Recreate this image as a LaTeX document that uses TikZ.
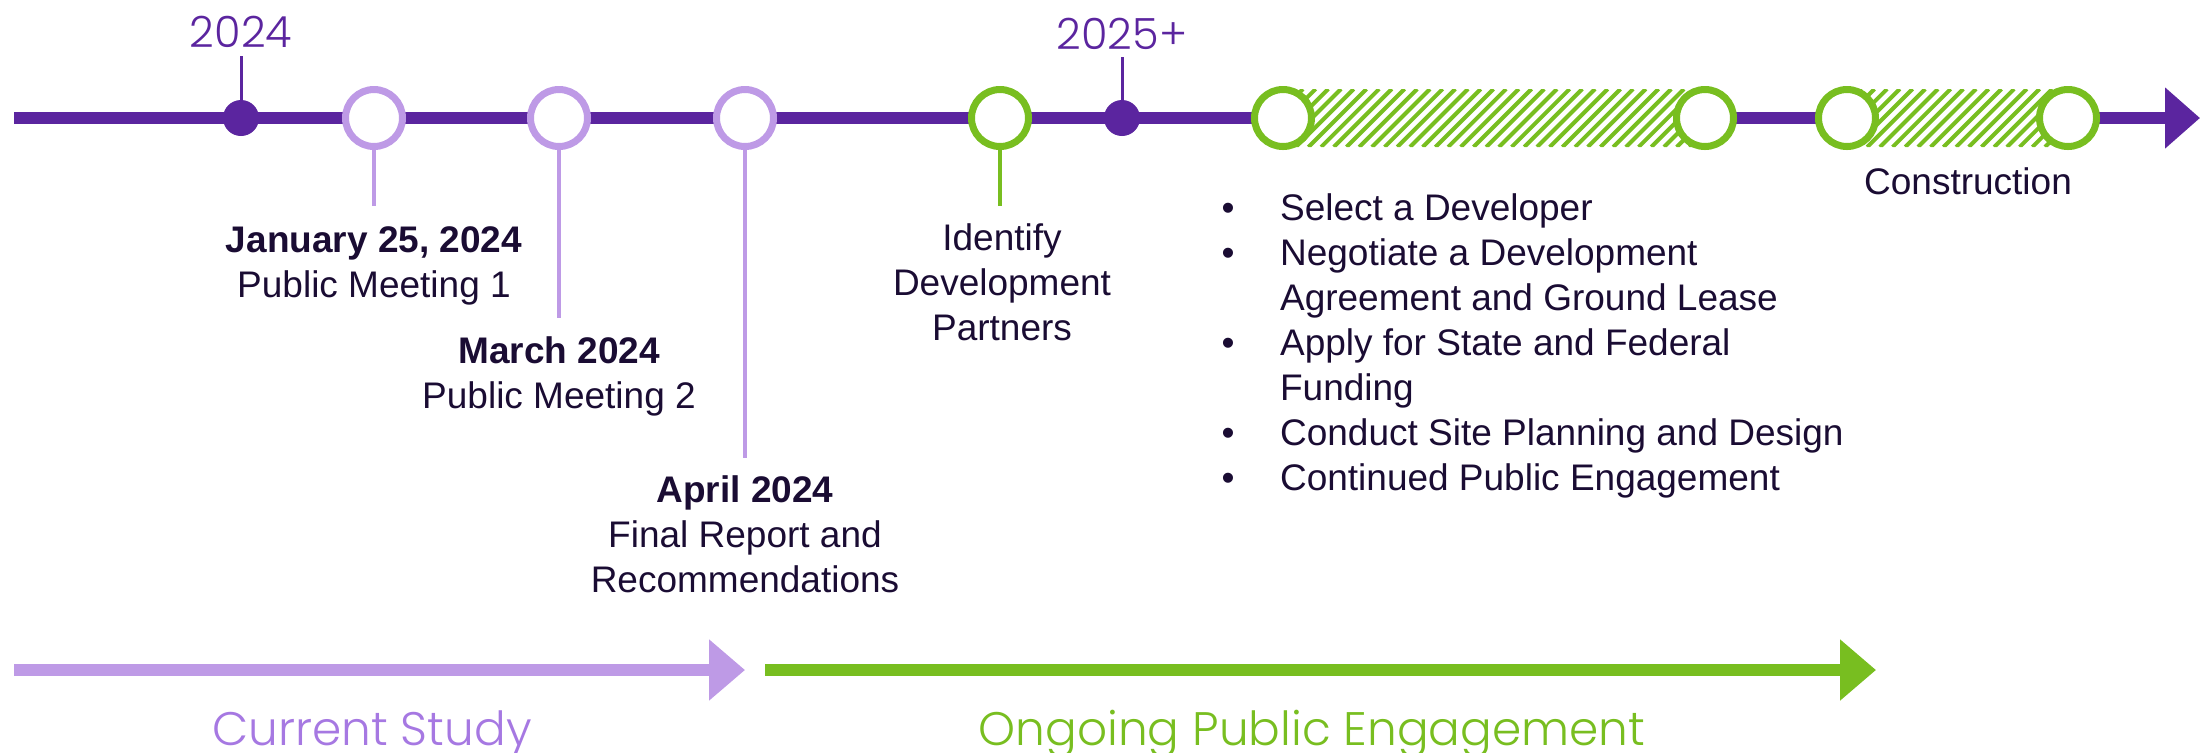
\documentclass[tikz,border=0pt]{standalone}
\usepackage{fontspec}
\setmainfont{Liberation Sans}
\IfFontExistsTF{Poppins Light}{\newfontfamily\gothic{Poppins Light}}{\newfontfamily\gothic{Poppins}}
\usetikzlibrary{arrows.meta}

\definecolor{tldark}{HTML}{5B259F}
\definecolor{tllight}{HTML}{BE9AE6}
\definecolor{tlgreen}{HTML}{78BE20}
\definecolor{tltext}{HTML}{1A0C33}
\definecolor{tlstudy}{HTML}{A678E2}

\begin{document}
\begin{tikzpicture}[x=0.5pt, y=-0.5pt,
        ring/.style={circle, draw=#1, fill=white, line width=3.5pt, inner sep=0pt, minimum size=28.5pt},
        dot/.style={circle, fill=tldark, inner sep=0pt, minimum size=18pt},
        desc/.style={text=tltext, align=center, anchor=base, font=\fontsize{18.5}{22.5}\selectfont},
        year/.style={text=tldark, anchor=base, font=\gothic\fontsize{21.5}{26}\selectfont},
        phase/.style={anchor=base, font=\gothic\fontsize{23.5}{28}\selectfont},
        stem/.style={line width=2pt, #1},
        band/.style={line width=6.35pt, -{Triangle[length=18pt, width=29.5pt]}},
        stripe/.style={tlgreen, line width=2pt}]
    \useasboundingbox (0,0) rectangle (2208,752);

    % main time line
    \coordinate (start) at (14,118);
    \coordinate (tip) at (2200,118);
    \draw[tldark, line width=6pt, -{Triangle[length=17.5pt, width=29.5pt]}] (start) -- (tip);

    % hatched spans
    \fill[white] (1283,89) rectangle (1705,147);
    \fill[white] (1847,89) rectangle (2068,147);
    \begin{scope}
        \clip (1283,89) rectangle (1705,147) (1847,89) rectangle (2068,147);
        \foreach \i in {-5,...,66}
            \draw[stripe] ({1283+\i*12.7},147) -- ++(58,-58);
    \end{scope}

    % years
    \node[dot] (y24) at (241,118) {};
    \node[dot] (y25) at (1122,118) {};
    \coordinate (t24) at (241,56);
    \coordinate (t25) at (1122,57);
    \draw[tldark, line width=1.5pt] (y24.north) -- (t24);
    \draw[tldark, line width=1.5pt] (y25.north) -- (t25);
    \node[year] (l24) at (241,47) {2024};
    \node[year] (l25) at (1122,49) {2025+};

    % milestones
    \node[ring=tllight] (m1) at (374,118) {};
    \node[ring=tllight] (m2) at (559,118) {};
    \node[ring=tllight] (m3) at (745,118) {};
    \node[ring=tlgreen] (g1) at (1000,118) {};
    \node[ring=tlgreen] (g2) at (1283,118) {};
    \node[ring=tlgreen] (g3) at (1705,118) {};
    \node[ring=tlgreen] (g4) at (1847,118) {};
    \node[ring=tlgreen] (g5) at (2068,118) {};

    \coordinate (s1) at (374,206);
    \coordinate (s2) at (559,318);
    \coordinate (s3) at (745,458);
    \coordinate (s4) at (1000,206);
    \draw[stem=tllight] (m1.south) -- (s1);
    \draw[stem=tllight] (m2.south) -- (s2);
    \draw[stem=tllight] (m3.south) -- (s3);
    \draw[stem=tlgreen] (g1.south) -- (s4);

    % texts sit on the baseline of their last line
    \node[desc] (d1) at (374,297) {\textbf{January 25, 2024}\\Public Meeting 1};
    \node[desc] (d2) at (559,408) {\textbf{March 2024}\\Public Meeting 2};
    \node[desc] (d3) at (745,592) {\textbf{April 2024}\\Final Report and\\Recommendations};
    \node[desc] (d4) at (1002,340) {Identify\\Development\\Partners};
    \node[desc] (d5) at (1968,194) {Construction};

    \node[desc] (bul) at (1228,490) {\textbullet\\\textbullet\\\mbox{}\\\textbullet\\\mbox{}\\\textbullet\\\textbullet};
    \node[desc, align=left, anchor=base west] (tasks) at (1273,490) {Select a Developer\\Negotiate a Development\\Agreement and Ground Lease\\Apply for State and Federal\\Funding\\Conduct Site Planning and Design\\Continued Public Engagement};

    % phases
    \coordinate (cs0) at (14,670);
    \coordinate (cs1) at (745,670);
    \coordinate (pe0) at (765,670);
    \coordinate (pe1) at (1876,670);
    \draw[band, tllight] (cs0) -- (cs1);
    \draw[band, tlgreen] (pe0) -- (pe1);
    \node[phase, text=tlstudy] (p1) at (372,745) {Current Study};
    \node[phase, text=tlgreen] (p2) at (1312,745) {Ongoing Public Engagement};
\end{tikzpicture}
\end{document}
